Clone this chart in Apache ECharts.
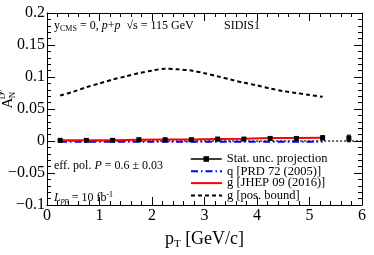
<!DOCTYPE html>
<html><head><meta charset="utf-8">
<script src="https://cdn.jsdelivr.net/npm/echarts@6/dist/echarts.min.js"></script>
<style>html,body{margin:0;padding:0;background:#fff}#c{width:374px;height:255px}</style>
</head><body><div id="c"></div>
<script>
// ---- data ----
const statX = [0.25,0.75,1.25,1.75,2.25,2.75,3.25,3.75,4.25,4.75,5.25,5.75];
const statY = [0.001,0.001,0.001,0.002,0.002,0.002,0.003,0.003,0.004,0.004,0.005,0.004];
const statErr = [0.0015,0.0015,0.0015,0.0015,0.0015,0.0015,0.0015,0.0015,0.002,0.002,0.003,0.005];
const qX = [0.25,0.75,1.25,1.75,2.25,2.75,3.25,3.75,4.25,4.75,5.25];
const qY = [-0.001,-0.001,-0.001,-0.001,-0.001,-0.001,-0.001,-0.001,-0.001,-0.001,-0.001];
const gX = [0.25,0.75,1.25,1.75,2.25,2.75,3.25,3.75,4.25,4.75,5.25];
const gY = [0.001,0.001,0.0012,0.002,0.0025,0.0025,0.003,0.0035,0.0045,0.0045,0.005];
const zeroX = [0.25,6];
const zeroY = [0,0];
const posX = [0.25,0.5,0.75,1.0,1.25,1.5,1.75,2.0,2.25,2.5,2.75,3.0,3.25,3.5,3.75,4.0,4.25,4.5,4.75,5.0,5.25];
const posY = [0.071,0.077,0.084,0.090,0.096,0.101,0.106,0.110,0.113,0.112,0.110,0.106,0.101,0.096,0.091,0.087,0.082,0.078,0.075,0.072,0.069];
const xTicks = ['0','1','2','3','4','5','6'];
const yTickMap = {'0.2':'0.2','0.15':'0.15','0.1':'0.1','0.05':'0.05','0':'0','-0.05':'\u22120.05','-0.1':'\u22120.1'};
const seriesNames = ['Stat. unc. projection','q [PRD 72 (2005)]','g [JHEP 09 (2016)]','g [pos. bound]'];

const FONT = 'Liberation Serif';
const zip = (a,b) => a.map((v,i)=>[v,b[i]]);

const chart = echarts.init(document.getElementById('c'), null, {renderer:'canvas'});
const axBase = {
  type:'value', axisLine:{show:true, onZero:false, lineStyle:{color:'#000', width:1}},
  splitLine:{show:false},
  axisTick:{show:true, inside:true, length:8, lineStyle:{color:'#000'}},
  minorTick:{show:true, splitNumber:5, length:4, lineStyle:{color:'#000'}}
};
const noSym = {color:'rgba(0,0,0,0)', borderWidth:0, opacity:0};
const legendTops = [152.5, 164.8, 176.6, 189];
const legendItems = [
  {name:seriesNames[0], lineStyle:{width:1.5, color:'#000', opacity:1}},
  {name:seriesNames[1], itemStyle:noSym},
  {name:seriesNames[2], itemStyle:noSym},
  {name:seriesNames[3], itemStyle:noSym}
];
const option = {
  animation:false,
  grid:{left:47, right:12, top:13, bottom:42},
  xAxis:[
    Object.assign({}, axBase, {min:0, max:6, interval:1, position:'bottom',
      axisLabel:{fontFamily:FONT, fontSize:16, color:'#000', margin:3,
        formatter:v=>xTicks[Math.round(v)]},
      name:'{m|p}{s|T}{m| [GeV/c]}', nameLocation:'middle', nameGap:24,
      nameTextStyle:{rich:{m:{fontFamily:FONT,fontSize:18,color:'#000'},s:{fontFamily:FONT,fontSize:11,color:'#000',verticalAlign:'bottom',padding:[10,0,0,0]}}}}),
    Object.assign({}, axBase, {min:0, max:6, interval:1, position:'top', axisLabel:{show:false}})
  ],
  yAxis:[
    Object.assign({}, axBase, {min:-0.1, max:0.2, interval:0.05, position:'left',
      axisLabel:{fontFamily:FONT, fontSize:16, color:'#000', margin:2,
        formatter:v=>yTickMap[String(Math.round(v*100)/100)]}}),
    Object.assign({}, axBase, {min:-0.1, max:0.2, interval:0.05, position:'right', axisLabel:{show:false}})
  ],
  legend: legendItems.map((it,i)=>({
    orient:'vertical', left:190, top:legendTops[i], padding:0, itemWidth:31, itemHeight:7,
    textStyle:{fontFamily:FONT, fontSize:12.5, color:'#000'},
    selectedMode:false, data:[it]
  })),
  series:[
    {name:'zero', type:'line', data:zip(zeroX,zeroY), symbol:'none', silent:true,
      lineStyle:{color:'#000', width:1.2, type:[2,2]}},
    {name:seriesNames[1], type:'line', data:zip(qX,qY), symbol:'none',
      lineStyle:{color:'#0000ff', width:2, type:[7,3,1.5,3]}, itemStyle:{color:'#0000ff'}},
    {name:seriesNames[2], type:'line', data:zip(gX,gY), symbol:'none',
      lineStyle:{color:'#ff0000', width:2}, itemStyle:{color:'#ff0000'}},
    {name:seriesNames[3], type:'line', data:zip(posX,posY), symbol:'none', smooth:0.3,
      lineStyle:{color:'#000', width:2, type:[4,3]}, itemStyle:{color:'#000'}},
    {name:seriesNames[0], type:'line', data:zip(statX,statY), symbol:'rect', symbolSize:5,
      itemStyle:{color:'#000'}, lineStyle:{width:0, color:'#000'}, z:5},
    {name:'err', type:'custom', z:6, silent:true,
      data:statX.map((x,i)=>[x,statY[i],statErr[i]]),
      renderItem:(params, api)=>{
        const x=api.value(0), y=api.value(1), e=api.value(2);
        const hi=api.coord([x,y+e]), lo=api.coord([x,y-e]);
        const st={stroke:'#000', lineWidth:1.2};
        return {type:'group', children:[
          {type:'line', shape:{x1:hi[0],y1:hi[1],x2:lo[0],y2:lo[1]}, style:st},
          {type:'line', shape:{x1:hi[0]-2,y1:hi[1],x2:hi[0]+2,y2:hi[1]}, style:st},
          {type:'line', shape:{x1:lo[0]-2,y1:lo[1],x2:lo[0]+2,y2:lo[1]}, style:st}
        ]};
      }}
  ],
  graphic:[
    {type:'text', left:54, top:20, style:{rich:{
        n:{fontFamily:FONT,fontSize:12,fill:'#000'},
        s:{fontFamily:FONT,fontSize:8,fill:'#000',padding:[6,0,0,0]},
        i:{fontFamily:FONT,fontSize:12,fontStyle:'italic',fill:'#000'}},
      text:'{n|y}{s|CMS}{n| = 0, }{i|p}{n|+}{i|p}{n|  \u221As = 115 GeV}'}},
    {type:'text', left:224, top:20, style:{text:'SIDIS1', fontFamily:FONT, fontSize:12, fill:'#000'}},
    {type:'text', left:54, top:160, style:{rich:{
        n:{fontFamily:FONT,fontSize:12,fill:'#000'},
        i:{fontFamily:FONT,fontSize:12,fontStyle:'italic',fill:'#000'}},
      text:'{n|eff. pol. }{i|P}{n| = 0.6 \u00B1 0.03}'}},
    {type:'text', left:54, top:191, style:{rich:{
        i:{fontFamily:FONT,fontSize:12,fontStyle:'italic',fill:'#000'},
        si:{fontFamily:FONT,fontSize:8,fontStyle:'italic',fill:'#000',padding:[6,0,0,0]},
        n:{fontFamily:FONT,fontSize:12,fill:'#000'},
        sp:{fontFamily:FONT,fontSize:8,fill:'#000',padding:[0,0,6,0]}},
      text:'{i|L}{si|pp}{n| = 10 fb}{sp|-1}'}},
    {type:'text', x:16, y:103, rotation:Math.PI/2, style:{text:'A', fontFamily:FONT, fontSize:15, fill:'#000', align:'center', verticalAlign:'bottom'}},
    {type:'text', x:17, y:95, rotation:Math.PI/2, style:{text:'N', fontFamily:FONT, fontSize:9, fill:'#000', align:'center', verticalAlign:'bottom'}},
    {type:'text', x:7, y:96, rotation:Math.PI/2, style:{text:'D', fontFamily:FONT, fontSize:9, fill:'#000', align:'center', verticalAlign:'bottom'}},
    {type:'text', x:4, y:91.5, rotation:Math.PI/2, style:{text:'0', fontFamily:FONT, fontSize:7, fill:'#000', align:'center', verticalAlign:'bottom'}}
  ]
};
chart.setOption(option);
</script></body></html>
